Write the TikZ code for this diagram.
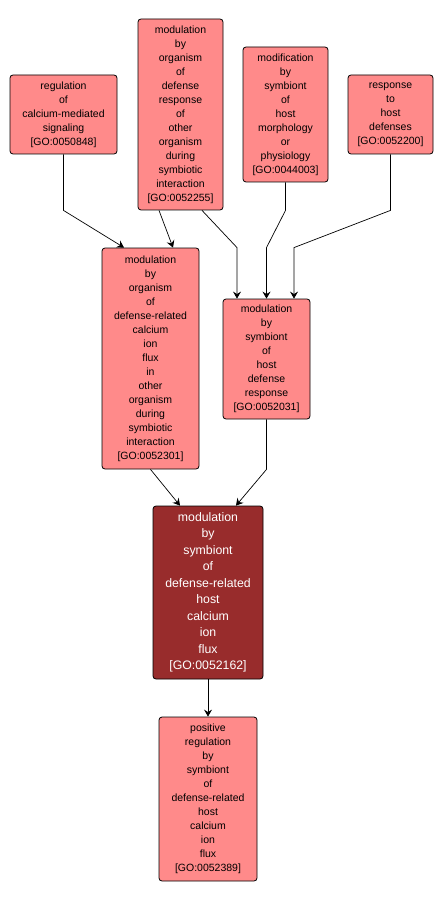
\documentclass[tikz,border=0pt]{standalone}
\usepackage{fontspec}
\setmainfont{Liberation Sans}
\usetikzlibrary{positioning, calc, arrows.meta}
\tikzset{>={Stealth[length=7pt, width=8pt, inset=2.5pt]}}
\definecolor{lightred}{RGB}{255,138,138}
\definecolor{darkred}{RGB}{152,44,44}

\begin{document}
\begin{tikzpicture}
    [
        x=1pt, y=-1pt,
        light_node/.style={rectangle, rounded corners=3pt, draw=black, fill=lightred, line width=0.8pt, align=center, inner sep=0pt, font=\fontsize{10.5}{14}\selectfont},
        dark_node/.style={rectangle, rounded corners=3pt, draw=black, fill=darkred, text=white, line width=0.8pt, align=center, inner sep=0pt, font=\fontsize{12.3}{16.5}\selectfont},
        edge/.style={->, line width=0.7pt},
    ]

  \useasboundingbox (0,0) rectangle (444,901);

  \node[light_node, minimum width=107pt, minimum height=79pt] (A) at (63.5,114.5) {regulation\\of\\calcium-mediated\\signaling\\{[GO:0050848]}};
  \node[light_node, minimum width=85pt, minimum height=191pt] (B) at (180.5,114.5) {modulation\\by\\organism\\of\\defense\\response\\of\\other\\organism\\during\\symbiotic\\interaction\\{[GO:0052255]}};
  \node[light_node, minimum width=85pt, minimum height=135pt] (C) at (285.5,114.5) {modification\\by\\symbiont\\of\\host\\morphology\\or\\physiology\\{[GO:0044003]}};
  \node[light_node, minimum width=85pt, minimum height=79pt] (D) at (390.5,114.5) {response\\to\\host\\defenses\\{[GO:0052200]}};
  \node[light_node, minimum width=97pt, minimum height=221pt] (E) at (150.5,358.5) {modulation\\by\\organism\\of\\defense-related\\calcium\\ion\\flux\\in\\other\\organism\\during\\symbiotic\\interaction\\{[GO:0052301]}};
  \node[light_node, minimum width=87pt, minimum height=120pt] (F) at (266.5,359) {modulation\\by\\symbiont\\of\\host\\defense\\response\\{[GO:0052031]}};
  \node[dark_node, minimum width=110pt, minimum height=173pt] (G) at (208,592.5) {modulation\\by\\symbiont\\of\\defense-related\\host\\calcium\\ion\\flux\\{[GO:0052162]}};
  \node[light_node, minimum width=98pt, minimum height=164pt] (H) at (208,799) {positive\\regulation\\by\\symbiont\\of\\defense-related\\host\\calcium\\ion\\flux\\{[GO:0052389]}};

  \draw[edge] (A.south) -- ++(0,56) -- ([xshift=-26.5pt]E.north);
  \draw[edge] ([xshift=-21.5pt]B.south) -- ([xshift=22.5pt]E.north);
  \draw[edge] ([xshift=21.5pt]B.south) -- ([xshift=-29.5pt, yshift=51pt]F.north) -- ([xshift=-29.5pt]F.north);
  \draw[edge] (C.south) -- ++(0,28) -- ([yshift=51pt]F.north) -- (F.north);
  \draw[edge] (D.south) -- ++(0,56) -- ([xshift=27.5pt, yshift=51pt]F.north) -- ([xshift=27.5pt]F.north);
  \draw[edge] (E.south) -- ([xshift=-28pt]G.north);
  \draw[edge] (F.south) -- ++(0,50) -- ([xshift=28pt]G.north);
  \draw[edge] (G) -- (H);
\end{tikzpicture}
\end{document}
